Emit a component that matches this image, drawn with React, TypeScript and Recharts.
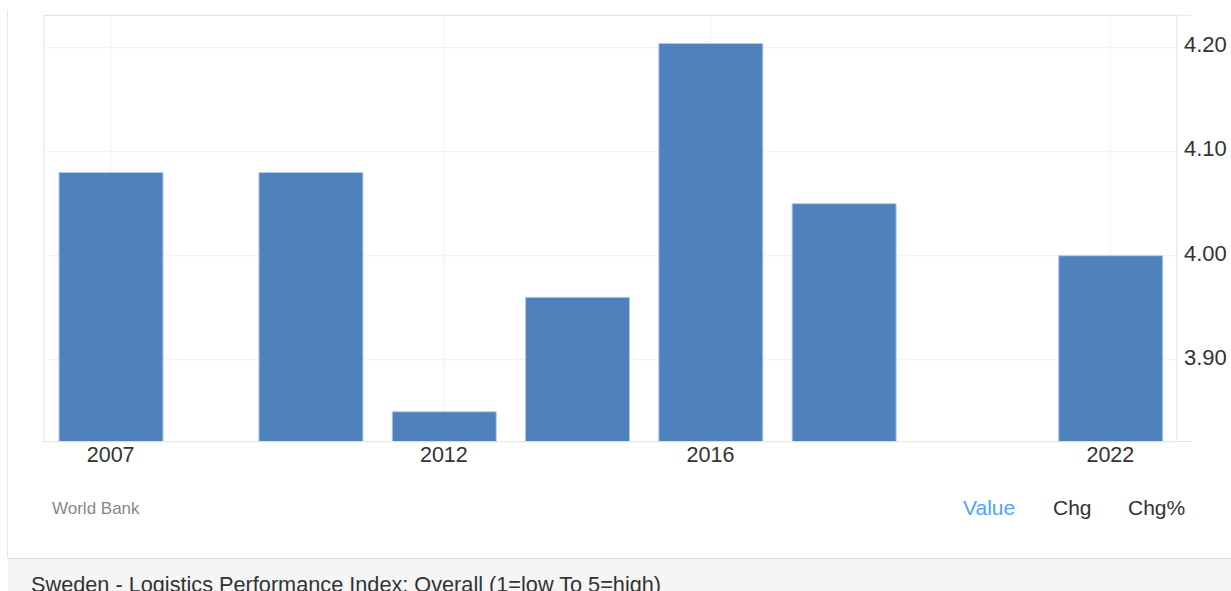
import { BarChart, Bar, XAxis, YAxis, CartesianGrid, ReferenceLine } from 'recharts';

const years = [2007, 2010, 2012, 2014, 2016, 2018, 2022];
const values = [4.08, 4.08, 3.85, 3.96, 4.204, 4.05, 4.0];
const xTicks = [2007, 2012, 2016, 2022];
const yTicks = [3.9, 4.0, 4.1, 4.2];

const data = years.map((year, i) => ({ year, value: values[i] }));

const font = '"Liberation Sans", Arial, sans-serif';

const YTick = (props: any) => (
  <text x={props.x} y={props.y - 3} dy="0.355em" fill="#333" fontSize={22} fontFamily={font} textAnchor="start">
    {Number(props.payload.value).toFixed(2)}
  </text>
);

export default function App() {
  return (
    <div style={{ position: 'absolute', left: 0, top: 0, width: 1231, height: 591, background: '#fff', fontFamily: font, overflow: 'hidden' }}>
      {/* card left border */}
      <div style={{ position: 'absolute', left: 7, top: 10, width: 1, height: 548, background: '#e8e8e8' }} />
      {/* top dotted line */}
      <div style={{ position: 'absolute', left: 44, top: 15, width: 1148, height: 0, borderTop: '1px dotted #ddd' }} />
      {/* bottom axis extension */}
      <div style={{ position: 'absolute', left: 1177, top: 441, width: 15, height: 1, background: '#e6e6e6' }} />

      <div style={{ position: 'absolute', left: 0, top: 0 }}>
        <BarChart width={1231} height={480} data={data} margin={{ top: 15, right: 6, left: 44, bottom: 8.3 }}>
          <CartesianGrid stroke="#e2e2e2" strokeDasharray="1 1" />
          <XAxis
            dataKey="year"
            type="number"
            domain={[2006, 2023]}
            ticks={xTicks}
            allowDataOverflow
            height={30}
            tickSize={0}
            tickMargin={5}
            axisLine={{ stroke: '#e6e6e6' }}
            tick={{ fill: '#333', fontSize: 21.5, fontFamily: font }}
          />
          <YAxis
            orientation="right"
            domain={[3.8212, 4.2314]}
            ticks={yTicks}
            allowDataOverflow
            width={48}
            tickSize={0}
            tickMargin={7}
            axisLine={{ stroke: '#e6e6e6' }}
            tick={YTick}
          />
          <ReferenceLine x={2006} stroke="#e6e6e6" />
          <Bar dataKey="value" fill="#4f81bd" stroke="#b3cbe8" strokeWidth={1} barSize={104} isAnimationActive={false} />
        </BarChart>
      </div>

      <div style={{ position: 'absolute', left: 52, top: 500, fontSize: 17, lineHeight: '17px', color: '#888' }}>World Bank</div>
      <div style={{ position: 'absolute', left: 963, top: 497, fontSize: 21, lineHeight: '21px', color: '#4da3ff' }}>Value</div>
      <div style={{ position: 'absolute', left: 1053, top: 497, fontSize: 21, lineHeight: '21px', color: '#333' }}>Chg</div>
      <div style={{ position: 'absolute', left: 1128, top: 497, fontSize: 21, lineHeight: '21px', color: '#333' }}>Chg%</div>

      <div style={{ position: 'absolute', left: 8, top: 558, width: 1223, height: 40, background: '#f5f5f5', borderTop: '1px solid #ddd' }}>
        <div style={{ position: 'absolute', left: 23, top: 15, fontSize: 21.7, lineHeight: '22px', color: '#333', whiteSpace: 'nowrap' }}>
          Sweden - Logistics Performance Index: Overall (1=low To 5=high)
        </div>
      </div>
    </div>
  );
}
